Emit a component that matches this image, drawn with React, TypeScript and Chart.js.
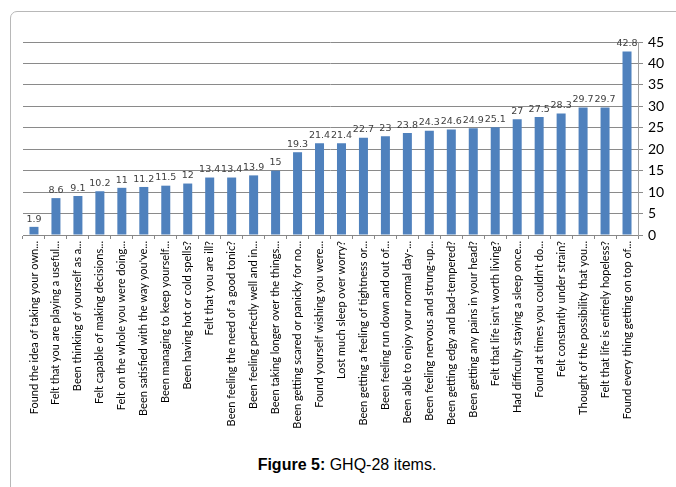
import React, { useEffect, useRef } from "react";
import { Chart, registerables } from "chart.js";

Chart.register(...registerables);

const categories: string[] = [
  "Found the idea of taking your own...",
  "Felt that you are playing a useful...",
  "Been thinking of yourself as a...",
  "Felt capable of making decisions...",
  "Felt on the whole you were doing...",
  "Been satisfied with the way you've...",
  "Been managing to keep yourself...",
  "Been having hot or cold spells?",
  "Felt that you are ill?",
  "Been feeling the need of a good tonic?",
  "Been feeling perfectly well and in...",
  "Been taking longer over the things...",
  "Been getting scared or panicky for no...",
  "Found yourself wishing you were...",
  "Lost much sleep over worry?",
  "Been getting a feeling of tightness or...",
  "Been feeling run down and out of...",
  "Been able to enjoy your normal day-...",
  "Been feeling nervous and strung-up...",
  "Been getting edgy and bad-tempered?",
  "Been getting any pains in your head?",
  "Felt that life isn't worth living?",
  "Had difficulty staying a sleep once...",
  "Found at times you couldn't do...",
  "Felt constantly under strain?",
  "Thought of the possibility that you...",
  "Felt that life is entirely hopeless?",
  "Found every thing getting on top of...",
];

const values: number[] = [
  1.9, 8.6, 9.1, 10.2, 11, 11.2, 11.5, 12, 13.4, 13.4, 13.9, 15, 19.3, 21.4,
  21.4, 22.7, 23, 23.8, 24.3, 24.6, 24.9, 25.1, 27, 27.5, 28.3, 29.7, 29.7, 42.8,
];

const yTicks: number[] = [0, 5, 10, 15, 20, 25, 30, 35, 40, 45];

const valueLabelPlugin = {
  id: "valueLabels",
  afterDatasetsDraw(chart: any) {
    const ctx = chart.ctx;
    const meta = chart.getDatasetMeta(0);
    ctx.save();
    ctx.font = "9.5px 'DejaVu Sans'";
    ctx.fillStyle = "#404040";
    ctx.textAlign = "center";
    ctx.textBaseline = "bottom";
    meta.data.forEach((bar: any, i: number) => {
      ctx.fillText(String(values[i]), bar.x, bar.y - 3);
    });
    ctx.restore();
  },
};

export default function App() {
  const canvasRef = useRef<HTMLCanvasElement | null>(null);

  useEffect(() => {
    if (!canvasRef.current) return;
    const chart = new Chart(canvasRef.current, {
      type: "bar",
      data: {
        labels: categories,
        datasets: [
          {
            data: values,
            backgroundColor: "#4F81BD",
            borderColor: "#6A96CC",
            borderWidth: 0,
            categoryPercentage: 1,
            barPercentage: 0.41,
          },
        ],
      },
      options: {
        animation: false,
        responsive: false,
        maintainAspectRatio: false,
        layout: { padding: { left: 23, top: 42, right: 0, bottom: 0 } },
        plugins: {
          legend: { display: false },
          tooltip: { enabled: false },
        },
        scales: {
          x: {
            offset: true,
            grid: {
              display: true,
              drawOnChartArea: false,
              drawTicks: true,
              tickLength: 4,
              offset: true,
              color: "#888888",
            },
            border: { display: true, color: "#888888" },
            ticks: {
              autoSkip: false,
              minRotation: 90,
              maxRotation: 90,
              padding: 2,
              color: "#000000",
              font: { family: "Lato", size: 11 },
            },
            afterFit: (scale: any) => {
              scale.height = 205;
            },
          },
          y: {
            position: "right",
            min: 0,
            max: 45,
            afterBuildTicks: (scale: any) => {
              scale.ticks = yTicks.map((v) => ({ value: v }));
            },
            grid: {
              color: "#8a8a8a",
              lineWidth: 1,
              drawTicks: true,
              tickLength: 5,
            },
            border: { display: true, color: "#a0a0a0" },
            ticks: {
              padding: 5,
              color: "#000000",
              font: { family: "Lato", size: 14 },
            },
            afterFit: (scale: any) => {
              scale.width = 38;
            },
          },
        },
      },
      plugins: [valueLabelPlugin],
    });
    return () => chart.destroy();
  }, []);

  return (
    <div
      style={{
        position: "fixed",
        left: 0,
        top: 0,
        width: 676,
        height: 487,
        background: "#ffffff",
        overflow: "hidden",
      }}
    >
      <div
        style={{
          position: "absolute",
          left: 10,
          top: 11,
          width: 700,
          height: 500,
          border: "1px solid #b8b8b8",
          borderRadius: 7,
          boxSizing: "border-box",
        }}
      />
      <canvas
        ref={canvasRef}
        width={676}
        height={440}
        style={{ position: "absolute", left: 0, top: 0, width: 676, height: 440 }}
      />
      <div
        style={{
          position: "absolute",
          left: 0,
          top: 456,
          width: 694,
          textAlign: "center",
          fontFamily: "'Liberation Sans', Arial, sans-serif",
          fontSize: 16,
          color: "#000000",
        }}
      >
        <b>Figure 5:</b> GHQ-28 items.
      </div>
    </div>
  );
}
